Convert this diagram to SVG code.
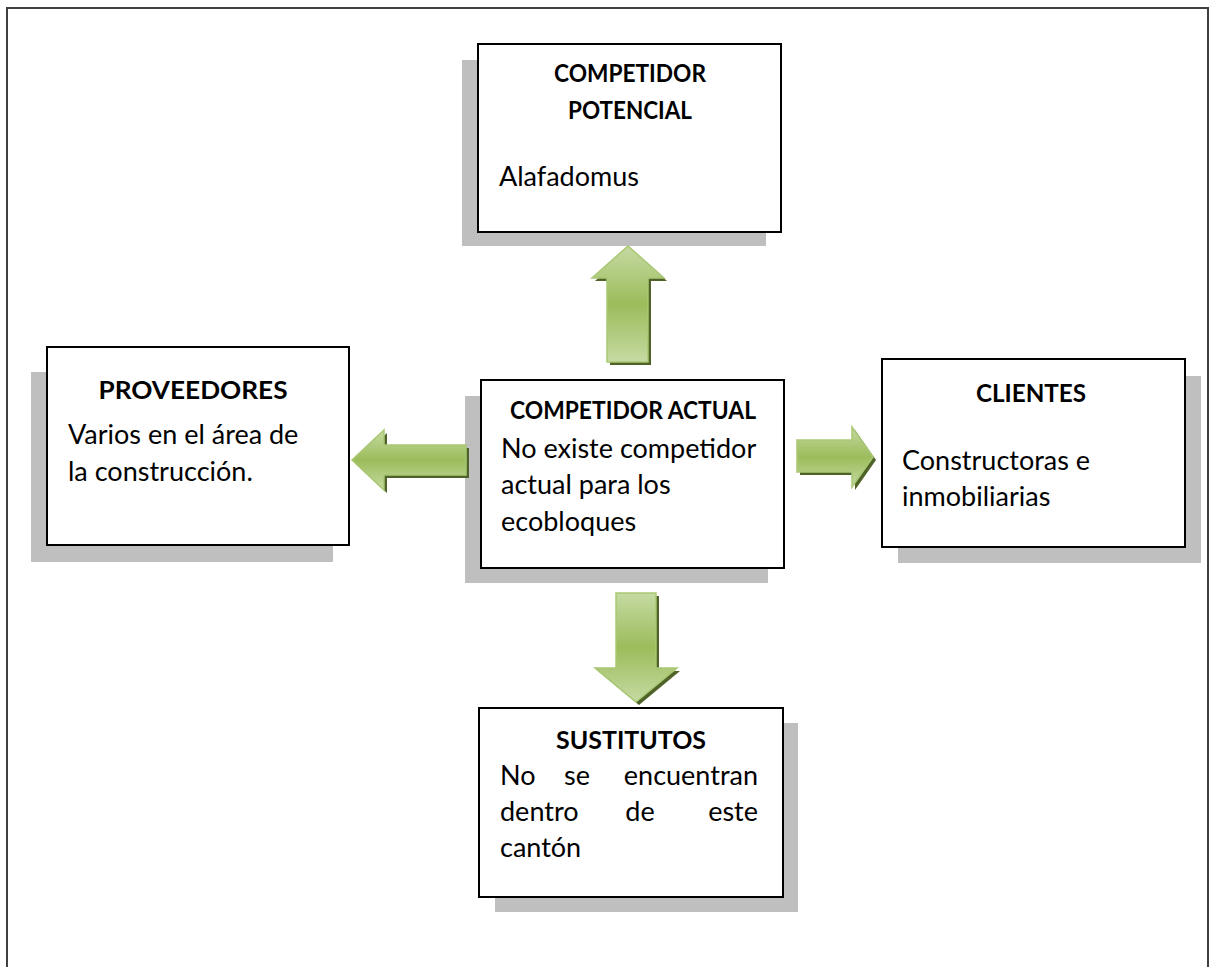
<svg xmlns="http://www.w3.org/2000/svg" width="1216" height="967" viewBox="0 0 1216 967">
<defs>
<style>
.frame{fill:none;stroke:#404040;stroke-width:2}
.shadow{fill:#bfbfbf}
.box{fill:#fff;stroke:#000;stroke-width:2}
.t{font-family:Lato,"Liberation Sans",sans-serif;font-size:27px;fill:#000}
.b{font-weight:bold;font-size:25.5px}
.c{text-anchor:middle}
.e{text-anchor:end}
.arrow{fill:url(#g);stroke:#a9c873;stroke-width:1.5;stroke-linejoin:miter}
.ash{fill:#4f6228}
</style>
<linearGradient id="g" x1="0" y1="0" x2="0" y2="1">
<stop offset="0" stop-color="#c6daa2"/>
<stop offset="0.5" stop-color="#9cbc5b"/>
<stop offset="1" stop-color="#c6daa2"/>
</linearGradient>
</defs>
<rect width="1216" height="967" fill="#fff"/>
<path class="frame" d="M7,968 L7,8 L1208,8 L1208,968"/>

<g id="competidor-potencial">
<rect class="shadow" x="462" y="60" width="304" height="186"/>
<rect class="box" x="478" y="44" width="303" height="188"/>
<text class="t b c" x="630" y="82" textLength="152" lengthAdjust="spacingAndGlyphs">COMPETIDOR</text>
<text class="t b c" x="630" y="119" textLength="124" lengthAdjust="spacingAndGlyphs">POTENCIAL</text>
<text class="t" x="499" y="186">Alafadomus</text>
</g>

<g id="proveedores">
<rect class="shadow" x="31" y="372" width="302" height="190"/>
<rect class="box" x="47" y="347" width="302" height="198"/>
<text class="t b c" x="193" y="399" textLength="189" lengthAdjust="spacingAndGlyphs">PROVEEDORES</text>
<text class="t" x="68" y="444">Varios en el área de</text>
<text class="t" x="68" y="481">la construcción.</text>
</g>

<g id="competidor-actual">
<rect class="shadow" x="465" y="396" width="303" height="187"/>
<rect class="box" x="481" y="380" width="303" height="188"/>
<text class="t b c" x="633" y="419" textLength="246" lengthAdjust="spacingAndGlyphs">COMPETIDOR ACTUAL</text>
<text class="t" x="501" y="458">No existe competidor</text>
<text class="t" x="501" y="494">actual para los</text>
<text class="t" x="501" y="531">ecobloques</text>
</g>

<g id="clientes">
<rect class="shadow" x="898" y="376" width="303" height="187"/>
<rect class="box" x="882" y="359" width="303" height="188"/>
<text class="t b c" x="1031" y="402" textLength="110" lengthAdjust="spacingAndGlyphs">CLIENTES</text>
<text class="t" x="902" y="470">Constructoras e</text>
<text class="t" x="902" y="506">inmobiliarias</text>
</g>

<g id="sustitutos">
<rect class="shadow" x="495" y="723" width="303" height="189"/>
<rect class="box" x="479" y="708" width="304" height="189"/>
<text class="t b c" x="631" y="749" textLength="150" lengthAdjust="spacingAndGlyphs">SUSTITUTOS</text>
<text class="t" x="500" y="785">No</text>
<text class="t c" x="577" y="785">se</text>
<text class="t e" x="758" y="785">encuentran</text>
<text class="t" x="500" y="821">dentro</text>
<text class="t c" x="640" y="821">de</text>
<text class="t e" x="758" y="821">este</text>
<text class="t" x="500" y="857">cantón</text>
</g>

<g id="connectors">
<g id="arrow-up">
<path class="ash" transform="translate(3,3)" d="M628,246 L664,278 L648,278 L648,362 L607,362 L607,278 L592,278 Z"/>
<path class="arrow" d="M628,246 L664,278 L648,278 L648,362 L607,362 L607,278 L592,278 Z"/>
</g>
<g id="arrow-left">
<path class="ash" transform="translate(3,3)" d="M352,460 L384,430 L384,445 L466,445 L466,475 L384,475 L384,490 Z"/>
<path class="arrow" d="M352,460 L384,430 L384,445 L466,445 L466,475 L384,475 L384,490 Z"/>
</g>
<g id="arrow-right">
<path class="ash" transform="translate(3,3)" d="M873,457 L852,427 L852,440 L797,440 L797,472 L852,472 L852,487 Z"/>
<path class="arrow" d="M873,457 L852,427 L852,440 L797,440 L797,472 L852,472 L852,487 Z"/>
</g>
<g id="arrow-down">
<path class="ash" transform="translate(3,3)" d="M636,702 L677,668 L656,668 L656,593 L616,593 L616,668 L595,668 Z"/>
<path class="arrow" d="M636,702 L677,668 L656,668 L656,593 L616,593 L616,668 L595,668 Z"/>
</g>
</g>
</svg>
